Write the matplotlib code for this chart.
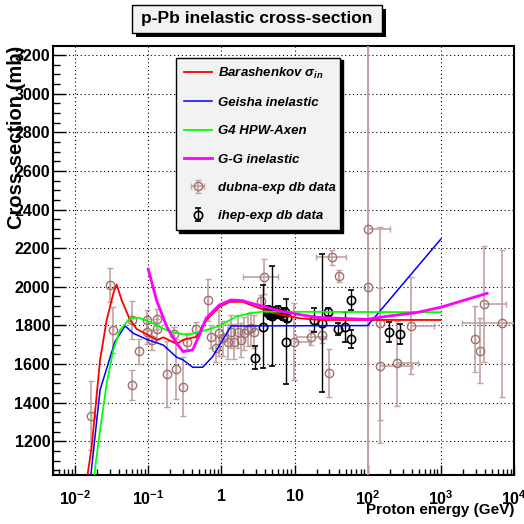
#!/usr/bin/env python3
import matplotlib

matplotlib.use("Agg")
import matplotlib.pyplot as plt
import numpy
from matplotlib.patches import Rectangle
from matplotlib.ticker import LogLocator, MultipleLocator, NullFormatter

plt.rcParams["font.family"] = ["Liberation Sans", "DejaVu Sans"]
plt.rcParams["font.weight"] = "bold"
plt.rcParams["mathtext.fontset"] = "custom"
plt.rcParams["mathtext.rm"] = "Liberation Sans:bold"
plt.rcParams["mathtext.bf"] = "Liberation Sans:bold"
plt.rcParams["mathtext.it"] = "Liberation Sans:bold:italic"
plt.rcParams["mathtext.sf"] = "Liberation Sans:bold"

# model curves: proton energy (GeV) and cross-section (mb)
bar_e = [0.0140, 0.0169, 0.022, 0.0271, 0.0334, 0.037, 0.0434, 0.0564, 0.0697, 0.1,
         0.13, 0.161, 0.245, 0.30, 0.457, 0.625, 0.945, 1.32, 1.95, 3.0, 5.0, 11.6, 22, 1000]
bar_s = [960, 1172, 1621, 1828, 1966, 2012, 1931, 1828, 1781, 1750,
         1724, 1738, 1704, 1725, 1741, 1828, 1897, 1922, 1922, 1895, 1865, 1837, 1828, 1828]

gei_e = [0.0160, 0.01875, 0.022, 0.0285, 0.0352, 0.0483, 0.0626, 0.095, 0.161, 0.245,
         0.30, 0.406, 0.555, 0.76, 1.36, 100, 1000]
gei_s = [980, 1224, 1466, 1604, 1716, 1797, 1759, 1728, 1698, 1635,
         1621, 1583, 1583, 1638, 1797, 1799, 2247]

g4_e = [0.0178, 0.022, 0.0271, 0.0334, 0.0412, 0.0564, 0.0735, 0.104, 0.198, 0.343,
        0.62, 0.94, 1.59, 2.41, 3.66, 1000]
g4_s = [990, 1258, 1500, 1673, 1776, 1837, 1840, 1819, 1767, 1750,
        1776, 1797, 1845, 1862, 1871, 1868]

gg_e = [0.1, 0.13, 0.179, 0.245, 0.30, 0.406, 0.50, 0.62, 0.94, 1.36,
        1.96, 2.41, 6.9, 19.6, 95, 200, 460, 1000, 4300]
gg_s = [2092, 1931, 1793, 1707, 1664, 1673, 1750, 1837, 1906, 1932,
        1928, 1917, 1871, 1842, 1831, 1849, 1866, 1894, 1966]

# dubna data: energy, cross-section, error, energy range low/high
dub_e = [0.0163, 0.0303, 0.0333, 0.0596, 0.0606, 0.0759, 0.0967, 0.0967, 0.112, 0.133,
         0.133, 0.181, 0.223, 0.24, 0.303, 0.34, 0.451, 0.65, 0.72, 0.85,
         0.94, 1.04, 1.22, 1.36, 1.50, 1.67, 1.86, 2.06, 2.29, 2.55,
         2.82, 3.87, 3.45, 9.9, 16.8, 23.7, 29.9, 32.1, 40.1, 100,
         100, 149, 149, 251, 393, 6840, 3920, 2950, 3470]
dub_s = [1332, 2009, 1776, 1828, 1491, 1667, 1828, 1767, 1724, 1833,
         1781, 1548, 1754, 1573, 1483, 1716, 1781, 1931, 1741, 1681,
         1759, 1733, 1716, 1767, 1716, 1767, 1724, 1759, 1776, 1785,
         1767, 2052, 1925, 1716, 1738, 1751, 1552, 2152, 2055, 2299,
         2000, 1811, 1591, 1604, 1798, 1811, 1911, 1730, 1669]
dub_err = [178, 90, 120, 100, 78, 65, 52, 65, 52, 52,
           52, 172, 35, 155, 153, 43, 39, 108, 60, 70,
           120, 90, 90, 85, 90, 85, 90, 85, 85, 85,
           85, 90, 30, 200, 40, 40, 125, 40, 30, 1300,
           1300, 500, 400, 220, 250, 380, 300, 170, 170]
dub_lo = {31: 1.96, 33: 9.9, 34: 10.5, 37: 19.6, 39: 100, 42: 149, 43: 251, 44: 393, 45: 1960, 46: 3920}
dub_hi = {31: 5.9, 33: 15.9, 34: 27, 37: 50.7, 39: 200, 42: 400, 43: 490, 44: 810, 45: 12000, 46: 7700}

# ihep data
ihep_e = [2.89, 3.67, 5.0, 4.3, 4.6, 4.9, 5.3, 5.7, 6.1, 6.5,
          7.0, 7.4, 7.8, 4.4, 5.0, 6.0, 7.6, 18.6, 23.7, 28.3,
          38.9, 49, 59.1, 59.1, 197, 275]
ihep_s = [1633, 1793, 1850, 1866, 1852, 1871, 1857, 1866, 1857, 1862,
          1848, 1871, 1840, 1880, 1875, 1880, 1716, 1828, 1814, 1871,
          1781, 1790, 1931, 1730, 1764, 1754]
ihep_err = [60, 215, 260, 20, 20, 20, 20, 20, 20, 20,
            20, 20, 20, 20, 20, 20, 220, 60, 358, 20,
            30, 78, 52, 48, 52, 52]

fig = plt.figure(figsize=(5.24, 5.24), dpi=100)
ax = fig.add_axes([53 / 524, 49 / 524, 461 / 524, 429 / 524])
ax.set_xscale("log")
ax.set_xlim(0.005, 1e4)
ax.set_ylim(1025, 3247)

ax.grid(True, which="major", color="black", linestyle=(0, (1, 2.5)), linewidth=0.8)

dub_col = "#a07070"
dub_ecol = "#c2a2a2"
n = len(dub_e)
xl = numpy.array([dub_e[i] - dub_lo.get(i, dub_e[i]) for i in range(n)])
xh = numpy.array([dub_hi.get(i, dub_e[i]) - dub_e[i] for i in range(n)])
dub = ax.errorbar(dub_e, dub_s, yerr=dub_err, xerr=[xl, xh], fmt="o", ms=6,
                  mfc="none", mec=dub_col, mew=1, ecolor=dub_ecol, elinewidth=1.2,
                  capsize=2, color=dub_col, zorder=3)
ihep = ax.errorbar(ihep_e, ihep_s, yerr=ihep_err, fmt="o", ms=6, mfc="none",
                   mec="black", mew=1.2, ecolor="black", elinewidth=1,
                   capsize=2, color="black", zorder=4)

l1, = ax.plot(bar_e, bar_s, color="#ff0000", lw=1.3, zorder=5)
l2, = ax.plot(gei_e, gei_s, color="#0000ff", lw=1.1, zorder=5)
l3, = ax.plot(g4_e, g4_s, color="#00ff00", lw=1.3, zorder=5)
l4, = ax.plot(gg_e, gg_s, color="#ff00ff", lw=2, zorder=5)

ax.set_xticks([1e-2, 1e-1, 1, 10, 1e2, 1e3, 1e4],
              labels=["$10^{-2}$", "$10^{-1}$", "1", "10", "$10^{2}$", "$10^{3}$", "$10^{4}$"])
ax.xaxis.set_minor_locator(LogLocator(base=10, subs=numpy.arange(2, 10), numticks=20))
ax.xaxis.set_minor_formatter(NullFormatter())
ax.yaxis.set_major_locator(MultipleLocator(200))
ax.yaxis.set_minor_locator(MultipleLocator(50))
ax.tick_params(axis="both", which="both", direction="in", top=False, right=False,
               labelsize=11.5, width=1)
ax.tick_params(axis="x", which="major", length=7, pad=10)
ax.tick_params(axis="x", which="minor", length=4)
ax.tick_params(axis="y", which="major", length=9, pad=2)
ax.tick_params(axis="y", which="minor", length=5)
for s in ax.spines.values():
    s.set_linewidth(1.5)

leg = ax.legend([l1, l2, l3, l4, dub, ihep],
                [r"Barashenkov $\sigma_{in}$", "Geisha inelastic", "G4 HPW-Axen",
                 "G-G inelastic", "dubna-exp db data", "ihep-exp db data"],
                loc="upper left", bbox_to_anchor=(0.267, 0.973, 0.356, 0.0), mode="expand",
                borderaxespad=0, fancybox=False, edgecolor="black", facecolor="#f2f2f2",
                framealpha=1, shadow={"color": "black", "alpha": 1},
                prop={"style": "italic", "weight": "bold", "size": 9.5},
                handlelength=2.1, handletextpad=0.5, labelspacing=1.22,
                borderpad=0.6, numpoints=1)
leg.get_frame().set_linewidth(1)
leg.set_zorder(10)

# title box with shadow
fig.patches.append(Rectangle((136 / 524, 1 - 37 / 524), 250 / 524, 28 / 524,
                             transform=fig.transFigure, facecolor="black", edgecolor="none"))
fig.patches.append(Rectangle((132 / 524, 1 - 33 / 524), 250 / 524, 28 / 524,
                             transform=fig.transFigure, facecolor="#f2f2f2",
                             edgecolor="black", linewidth=1))
fig.text(257 / 524, 1 - 19 / 524, "p-Pb inelastic cross-section", ha="center",
         va="center", fontsize=12.5, fontweight="bold")

fig.text(17 / 524, 1 - 46 / 524, "Cross-section (mb)", rotation=90, ha="center",
         va="top", fontsize=14.5, fontweight="bold")
fig.text(514 / 524, 1 - 510 / 524, "Proton energy (GeV)", ha="right", va="center",
         fontsize=11, fontweight="bold")

fig.savefig("out.png", dpi=100)
